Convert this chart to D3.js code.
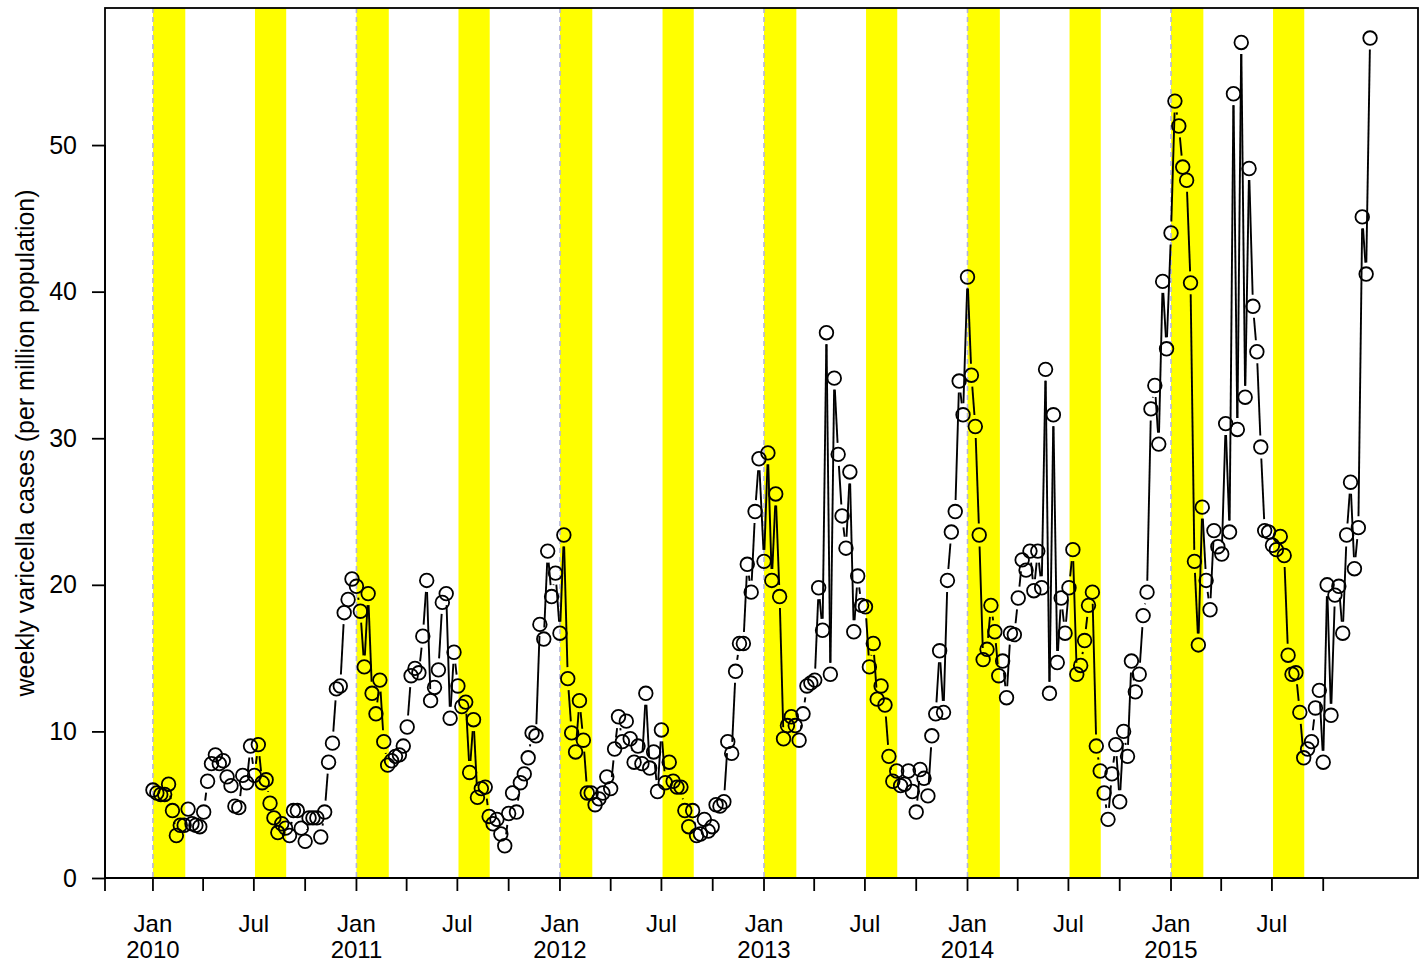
<!DOCTYPE html>
<html>
<head>
<meta charset="utf-8">
<script src="https://cdn.jsdelivr.net/npm/d3@7"></script>
<style>
  body { margin: 0; background: #fff; }
  svg { font-family: "Liberation Sans", Arial, sans-serif; }
</style>
</head>
<body>
<svg id="chart"></svg>
<script>
// weekly varicella cases per million, one array per year (52 weeks each)
const years = [2010, 2011, 2012, 2013, 2014, 2015];
const cases2010 = [6.0, 5.8, 5.7, 5.7, 6.4, 4.6, 2.9, 3.6, 3.6, 4.7, 3.7, 3.6, 3.5, 4.5, 6.6, 7.8, 8.4, 7.8, 8.0, 6.9,
  6.3, 4.9, 4.8, 7.0, 6.5, 9.0, 7.0, 9.1, 6.5, 6.7, 5.1, 4.1, 3.1, 3.7, 3.4, 2.9, 4.6, 4.6, 3.4, 2.5,
  4.1, 4.1, 4.1, 2.8, 4.5, 7.9, 9.2, 12.9, 13.1, 18.1, 19.0, 20.4];
const cases2011 = [19.9, 18.2, 14.4, 19.4, 12.6, 11.2, 13.5, 9.3, 7.7, 8.0, 8.3, 8.4, 9.0, 10.3, 13.8, 14.3, 14.0, 16.5, 20.3, 12.1,
  13.0, 14.2, 18.8, 19.4, 10.9, 15.4, 13.1, 11.7, 12.0, 7.2, 10.8, 5.5, 6.1, 6.2, 4.2, 3.7, 4.0, 3.0, 2.2, 4.4,
  5.8, 4.5, 6.5, 7.1, 8.2, 9.9, 9.7, 17.3, 16.3, 22.3, 19.2, 20.8];
const cases2012 = [16.7, 23.4, 13.6, 9.9, 8.6, 12.1, 9.4, 5.8, 5.8, 5.0, 5.4, 5.8, 6.9, 6.1, 8.8, 11.0, 9.3, 10.7, 9.5, 7.9,
  9.0, 7.8, 12.6, 7.5, 8.6, 5.9, 10.1, 6.5, 7.9, 6.6, 6.2, 6.2, 4.6, 3.5, 4.6, 2.9, 3.0, 4.0, 3.2, 3.5,
  5.0, 4.9, 5.2, 9.3, 8.5, 14.1, 16.0, 16.0, 21.4, 19.5, 25.0, 28.6];
const cases2013 = [21.6, 29.0, 20.3, 26.2, 19.2, 9.5, 10.4, 11.0, 10.4, 9.4, 11.2, 13.1, 13.3, 13.5, 19.8, 16.9, 37.2, 13.9, 34.1, 28.9,
  24.7, 22.5, 27.7, 16.8, 20.6, 18.6, 18.5, 14.4, 16.0, 12.2, 13.1, 11.8, 8.3, 6.6, 7.3, 6.3, 6.4, 7.3, 5.9, 4.5,
  7.4, 6.8, 5.6, 9.7, 11.2, 15.5, 11.3, 20.3, 23.6, 25.0, 33.9, 31.6];
const cases2014 = [41.0, 34.3, 30.8, 23.4, 14.9, 15.6, 18.6, 16.8, 13.8, 14.8, 12.3, 16.7, 16.6, 19.1, 21.7, 21.0, 22.3, 19.6, 22.3, 19.8,
  34.7, 12.6, 31.6, 14.7, 19.1, 16.7, 19.8, 22.4, 13.9, 14.5, 16.2, 18.6, 19.5, 9.0, 7.3, 5.8, 4.0, 7.1, 9.1, 5.2,
  10.0, 8.3, 14.8, 12.7, 13.9, 17.9, 19.5, 32.0, 33.6, 29.6, 40.7, 36.1];
const cases2015 = [44.0, 53.0, 51.3, 48.5, 47.6, 40.6, 21.6, 15.9, 25.3, 20.3, 18.3, 23.7, 22.6, 22.1, 31.0, 23.6, 53.5, 30.6, 57.0, 32.8,
  48.4, 39.0, 35.9, 29.4, 23.7, 23.6, 22.7, 22.4, 23.3, 22.0, 15.2, 13.9, 14.0, 11.3, 8.2, 8.8, 9.3, 11.6, 12.8, 7.9,
  20.0, 11.1, 19.3, 19.9, 16.7, 23.4, 27.0, 21.1, 23.9, 45.1, 41.2, 57.3];
const casesByYear = [cases2010, cases2011, cases2012, cases2013, cases2014, cases2015];

// holiday bands: [start month, start day, end month, end day]
const bands = [[0, 1, 1, 28], [6, 3, 7, 28]];
const yTicks = [0, 10, 20, 30, 40, 50];
const yLabel = "weekly varicella cases (per million population)";

const width = 1424, height = 962;
const pLeft = 105, pRight = 1418, pTop = 8, pBottom = 878;
const fontSize = 25;

const svg = d3.select("#chart").attr("width", width).attr("height", height);

const data = [];
casesByYear.forEach((arr, k) => {
  arr.forEach((v, i) => data.push({ date: d3.timeDay.offset(new Date(years[k], 0, 1), 7 * i), value: v }));
});

const x = d3.scaleTime()
  .domain([new Date(2009, 9, 7), new Date(2016, 2, 19)])
  .range([pLeft, pRight]);
const y = d3.scaleLinear().domain([0, 59.35]).range([pBottom, pTop]);

// yellow bands
const bandRects = [];
years.forEach(yr => bands.forEach(b => bandRects.push([new Date(yr, b[0], b[1]), new Date(yr, b[2], b[3])])));
svg.append("g").selectAll("rect")
  .data(bandRects)
  .join("rect")
  .attr("x", d => x(d[0]))
  .attr("width", d => x(d[1]) - x(d[0]))
  .attr("y", pTop)
  .attr("height", pBottom - pTop)
  .attr("fill", "#ffff00");

// dashed lines at each new year
svg.append("g").selectAll("line")
  .data(years)
  .join("line")
  .attr("x1", d => x(new Date(d, 0, 1)))
  .attr("x2", d => x(new Date(d, 0, 1)))
  .attr("y1", pTop)
  .attr("y2", pBottom)
  .attr("stroke", "#b4b4dc")
  .attr("stroke-width", 1.6)
  .attr("stroke-dasharray", "5,4");

// line segments with gaps around the points (like type = "b")
const gap = 11.5;
const segs = [];
for (let i = 1; i < data.length; i++) {
  const x0 = x(data[i - 1].date), y0 = y(data[i - 1].value);
  const x1 = x(data[i].date), y1 = y(data[i].value);
  const len = Math.hypot(x1 - x0, y1 - y0);
  if (len <= 2 * gap) continue;
  const ux = (x1 - x0) / len, uy = (y1 - y0) / len;
  segs.push([x0 + ux * gap, y0 + uy * gap, x1 - ux * gap, y1 - uy * gap]);
}
svg.append("g").selectAll("line")
  .data(segs)
  .join("line")
  .attr("x1", d => d[0]).attr("y1", d => d[1])
  .attr("x2", d => d[2]).attr("y2", d => d[3])
  .attr("stroke", "#000")
  .attr("stroke-width", 1.9);

svg.append("g").selectAll("circle")
  .data(data)
  .join("circle")
  .attr("cx", d => x(d.date))
  .attr("cy", d => y(d.value))
  .attr("r", 6.8)
  .attr("fill", "none")
  .attr("stroke", "#000")
  .attr("stroke-width", 1.8);

// box
svg.append("rect")
  .attr("x", pLeft).attr("y", pTop)
  .attr("width", pRight - pLeft).attr("height", pBottom - pTop)
  .attr("fill", "none").attr("stroke", "#000").attr("stroke-width", 1.8);

// y axis
const yAxis = svg.append("g")
  .attr("transform", `translate(${pLeft},0)`)
  .call(d3.axisLeft(y).tickValues(yTicks).tickSize(13).tickPadding(15).tickFormat(d3.format("d")));
yAxis.select(".domain").remove();
yAxis.append("line")
  .attr("x1", 0).attr("x2", 0)
  .attr("y1", y(0)).attr("y2", y(50))
  .attr("stroke", "#000").attr("stroke-width", 1.8);
yAxis.selectAll(".tick line").attr("stroke-width", 1.8);
yAxis.selectAll("text").attr("font-size", fontSize).attr("fill", "#000")
  .attr("font-family", "Liberation Sans, Arial, sans-serif");

// x axis: ticks every quarter, labels at Jan and Jul
const xTicks = d3.timeMonth.every(3).range(new Date(2009, 9, 1), new Date(2015, 11, 1))
  .filter(d => x(d) >= pLeft);
const xAxis = svg.append("g").attr("transform", `translate(0,${pBottom})`);
xAxis.append("line")
  .attr("x1", pLeft).attr("x2", x(xTicks[xTicks.length - 1]))
  .attr("stroke", "#000").attr("stroke-width", 1.8);
xAxis.selectAll(".tk")
  .data([new Date(2009, 9, 7)].concat(xTicks))
  .join("line")
  .attr("class", "tk")
  .attr("x1", d => Math.max(pLeft, x(d))).attr("x2", d => Math.max(pLeft, x(d)))
  .attr("y1", 0).attr("y2", 13)
  .attr("stroke", "#000").attr("stroke-width", 1.8);
const labelled = xTicks.filter(d => d.getMonth() === 0 || d.getMonth() === 6);
xAxis.selectAll(".mon")
  .data(labelled)
  .join("text")
  .attr("class", "mon")
  .attr("x", d => x(d))
  .attr("y", 54)
  .attr("text-anchor", "middle")
  .attr("font-size", 24)
  .text(d => d3.timeFormat("%b")(d));
xAxis.selectAll(".yr")
  .data(labelled.filter(d => d.getMonth() === 0))
  .join("text")
  .attr("class", "yr")
  .attr("x", d => x(d))
  .attr("y", 80)
  .attr("text-anchor", "middle")
  .attr("font-size", 24)
  .text(d => d.getFullYear());

svg.append("text")
  .attr("transform", `translate(34,${(pTop + pBottom) / 2}) rotate(-90)`)
  .attr("text-anchor", "middle")
  .attr("font-size", fontSize)
  .text(yLabel);
</script>
</body>
</html>
